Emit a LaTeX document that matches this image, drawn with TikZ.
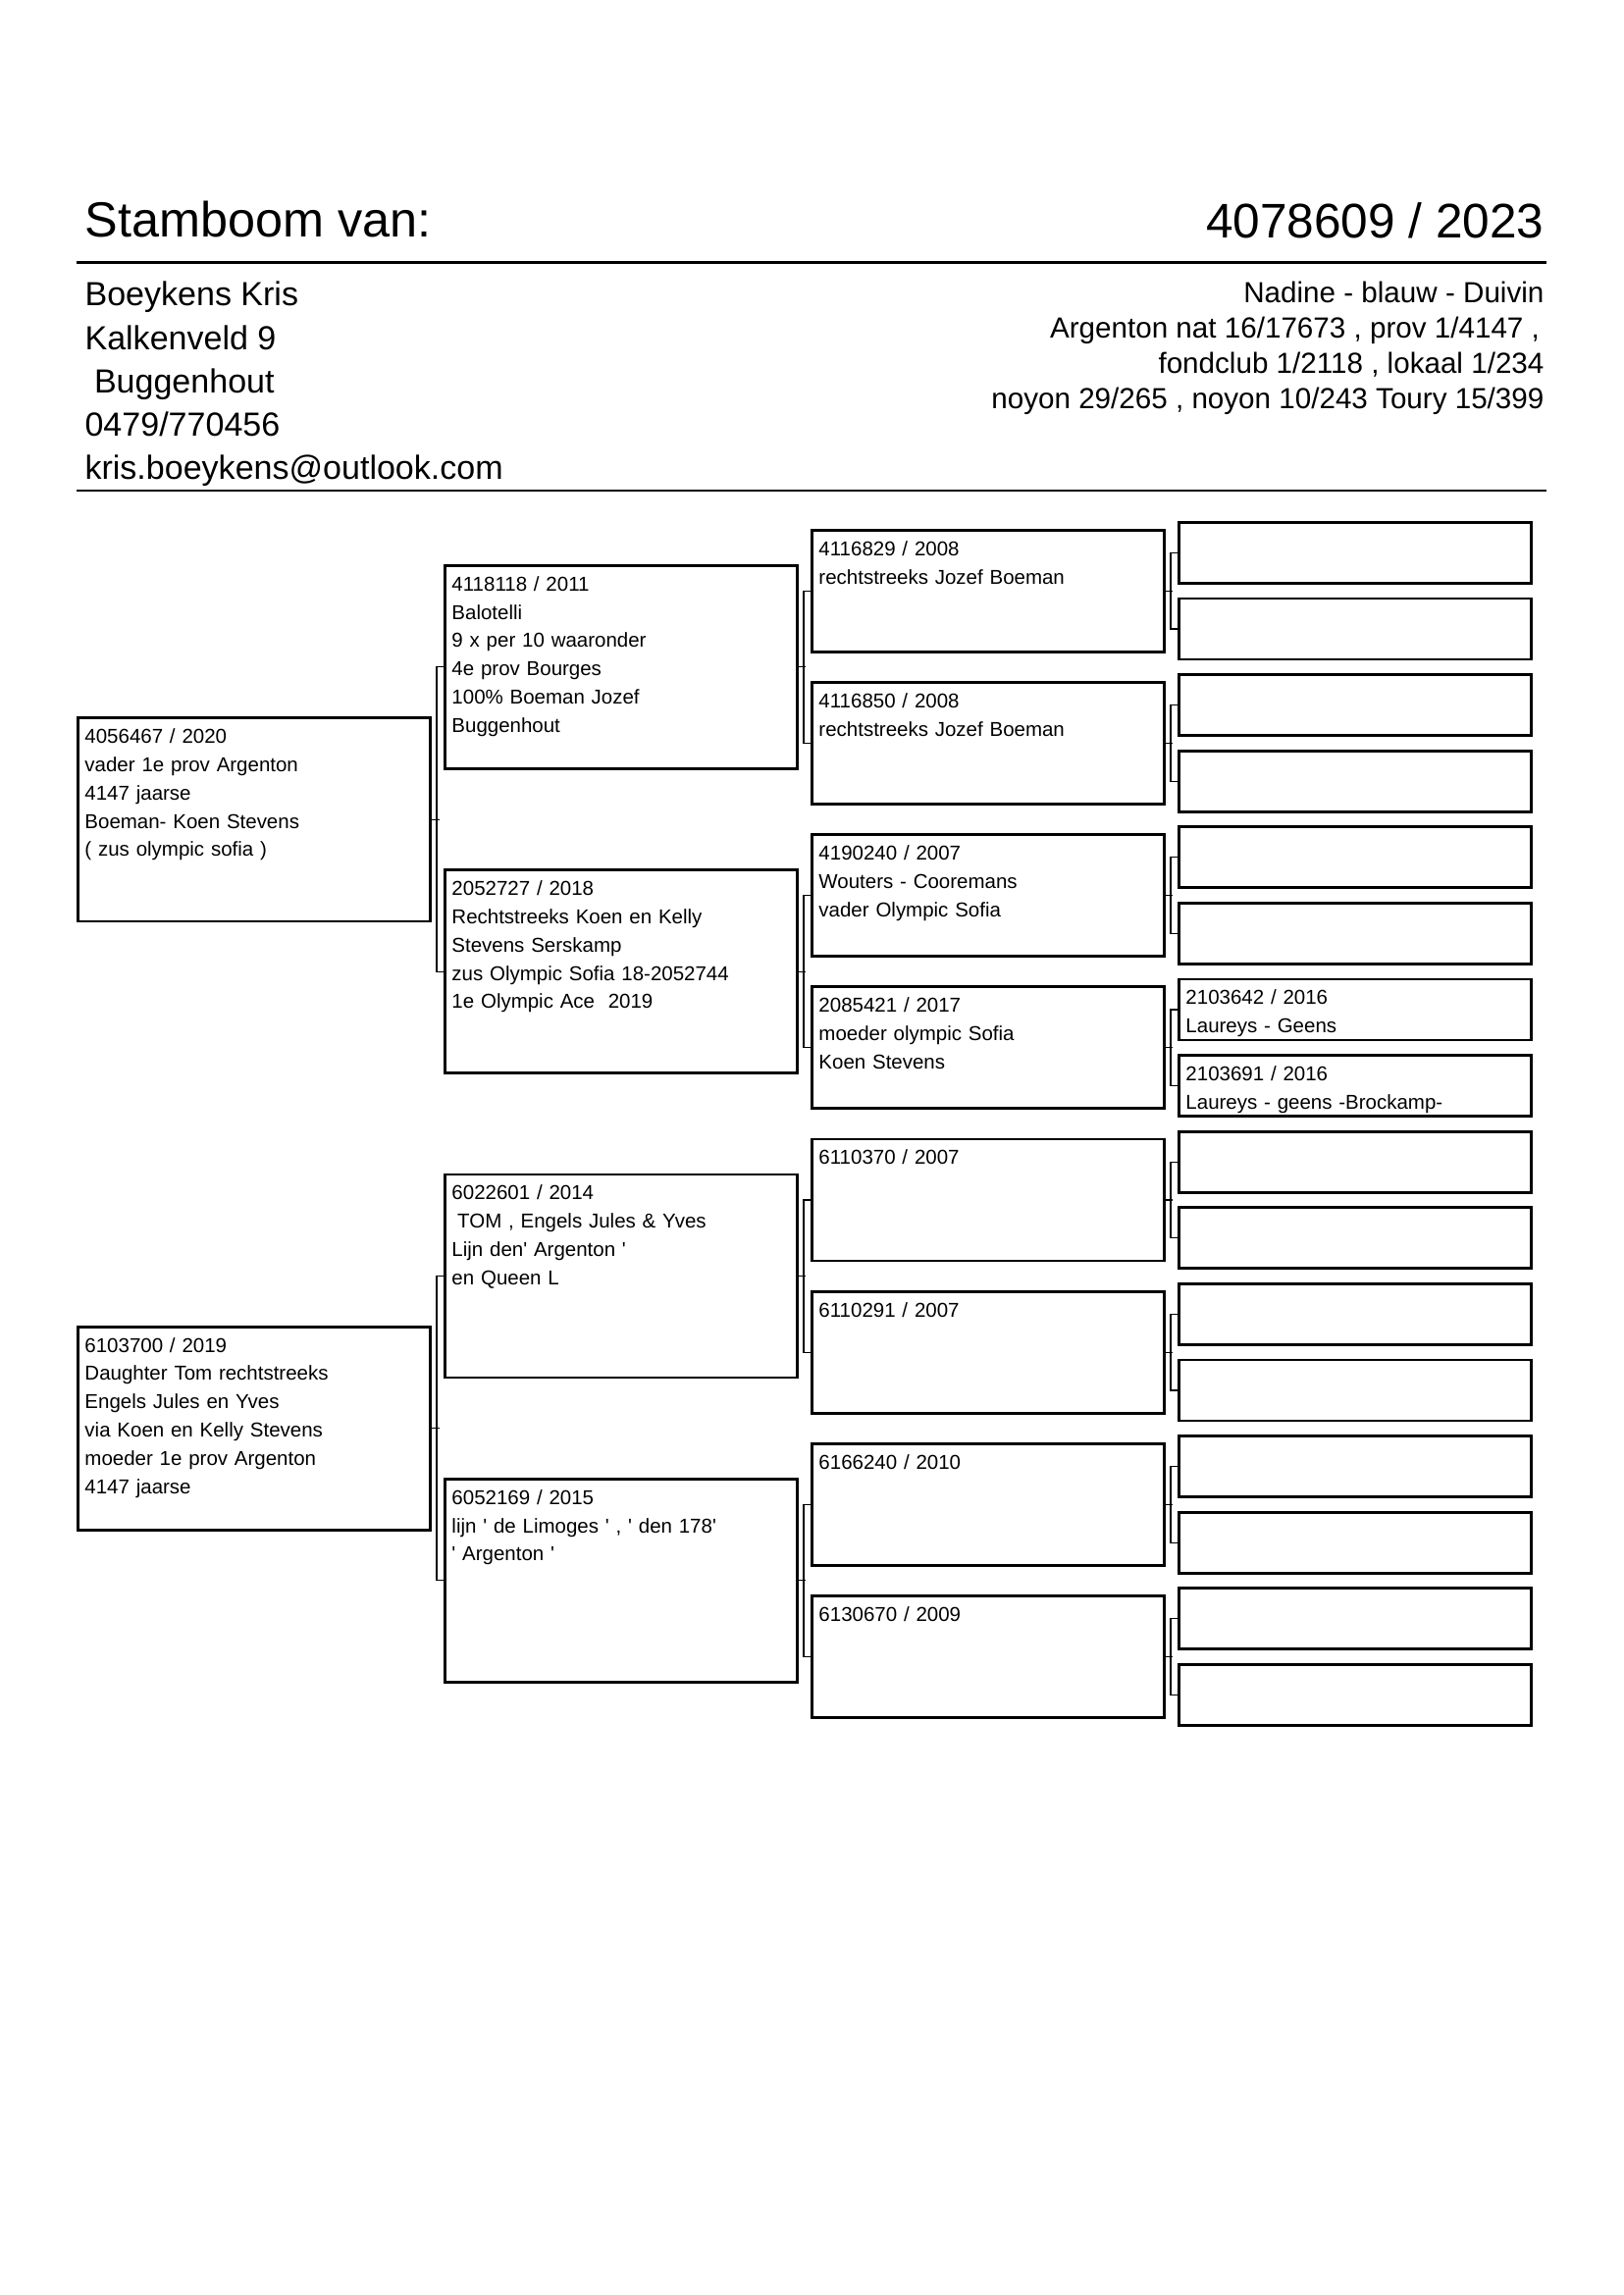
\documentclass[tikz,border=0pt]{standalone}
\usepackage{fontspec}
\setmainfont{Liberation Sans}[Ligatures=TeXOff]

\begin{document}
\begin{tikzpicture}[x=0.127mm, y=-0.127mm,
    every node/.style={inner sep=0pt},
    box/.style={draw, line width=1pt, anchor=north west, align=left, inner xsep=0.9mm, inner ysep=0pt,
      text width=43.8mm, text height=3.3mm, font=\fontsize{7.4}{10.4}\selectfont},
    bigbox/.style={box, text depth=22.99mm},
    midbox/.style={box, text depth=12.45mm},
    smallbox/.style={box, text depth=4.57mm},
    link/.style={line width=0.4pt},
    rule/.style={line width=0.75pt}]
  \useasboundingbox (0,0) rectangle (1654,2339);
  % header: title, ring number and owner
  \node[anchor=base west, font=\fontsize{18.2}{20}\selectfont] (titel) at (86,242)   {Stamboom van:};
  \node[anchor=base east, font=\fontsize{17.9}{20}\selectfont] (ring)  at (1574,243) {4078609 / 2023};
  \draw[rule] (78,267.5) -- (1576,267.5);
  \node[anchor=base west, font=\fontsize{12.3}{14}\selectfont] (naam)  at (86,312)   {Boeykens Kris};
  \node[anchor=base west, font=\fontsize{12.3}{14}\selectfont] (straat) at (86,356.5) {Kalkenveld 9};
  \node[anchor=base west, font=\fontsize{12.3}{14}\selectfont] (gemeente) at (86,400.7) {~Buggenhout};
  \node[anchor=base west, font=\fontsize{12.3}{14}\selectfont] (tel)   at (86,445)   {0479/770456};
  \node[anchor=base west, font=\fontsize{12.3}{14}\selectfont] (mail)  at (86,488.5) {kris.boeykens@outlook.com};
  \node[anchor=base east, font=\fontsize{10.7}{12}\selectfont] (duif)  at (1574,308.5) {Nadine - blauw - Duivin};
  \node[anchor=base east, font=\fontsize{10.7}{12}\selectfont] (prijs1) at (1569.5,344.5) {Argenton nat 16/17673 , prov 1/4147 ,~};
  \node[anchor=base east, font=\fontsize{10.7}{12}\selectfont] (prijs2) at (1574,380.5) {fondclub 1/2118 , lokaal 1/234};
  \node[anchor=base east, font=\fontsize{10.7}{12}\selectfont] (prijs3) at (1574,416.5) {noyon 29/265 , noyon 10/243 Toury 15/399};
  \draw[rule] (78,500) -- (1576,500);
  % parents
  \node[bigbox] (v) at (78,730.5)  {4056467 / 2020\\vader 1e prov Argenton\\4147 jaarse\\Boeman- Koen Stevens\\( zus olympic sofia )};
  \node[bigbox] (m) at (78,1350.8) {6103700 / 2019\\Daughter Tom rechtstreeks\\Engels Jules en Yves\\via Koen en Kelly Stevens\\moeder 1e prov Argenton\\4147 jaarse};
  % grandparents
  \node[bigbox] (vv) at (452,575)    {4118118 / 2011\\Balotelli\\9 x per 10 waaronder\\4e prov Bourges\\100\% Boeman Jozef\\Buggenhout};
  \node[bigbox] (vm) at (452,885.3)  {2052727 / 2018\\Rechtstreeks Koen en Kelly\\Stevens Serskamp\\zus Olympic Sofia 18-2052744\\1e Olympic Ace~~2019};
  \node[bigbox] (mv) at (452,1195.6) {6022601 / 2014\\\hspace*{.28em}TOM , Engels Jules \& Yves\\Lijn den' Argenton '\\en Queen L};
  \node[bigbox] (mm) at (452,1506)   {6052169 / 2015\\lijn ' de Limoges ' , ' den 178'\\' Argenton '};
  % great-grandparents
  \node[midbox] (vvv) at (826,539)     {4116829 / 2008\\rechtstreeks Jozef Boeman};
  \node[midbox] (vvm) at (826,694.15)  {4116850 / 2008\\rechtstreeks Jozef Boeman};
  \node[midbox] (vmv) at (826,849.3)   {4190240 / 2007\\Wouters - Cooremans\\vader Olympic Sofia};
  \node[midbox] (vmm) at (826,1004.45) {2085421 / 2017\\moeder olympic Sofia\\Koen Stevens};
  \node[midbox] (mvv) at (826,1159.6)  {6110370 / 2007};
  \node[midbox] (mvm) at (826,1314.75) {6110291 / 2007};
  \node[midbox] (mmv) at (826,1469.9)  {6166240 / 2010};
  \node[midbox] (mmm) at (826,1625.05) {6130670 / 2009};
  % fourth generation, mostly empty
  \node[smallbox] (vvvv) at (1200,531)    {};
  \node[smallbox] (vvvm) at (1200,608.6)  {};
  \node[smallbox] (vvmv) at (1200,686.2)  {};
  \node[smallbox] (vvmm) at (1200,763.8)  {};
  \node[smallbox] (vmvv) at (1200,841.4)  {};
  \node[smallbox] (vmvm) at (1200,919)    {};
  \node[smallbox] (vmmv) at (1200,996.6)  {2103642 / 2016\\Laureys - Geens};
  \node[smallbox] (vmmm) at (1200,1074.2) {2103691 / 2016\\Laureys - geens -Brockamp-};
  \node[smallbox] (mvvv) at (1200,1151.8) {};
  \node[smallbox] (mvvm) at (1200,1229.4) {};
  \node[smallbox] (mvmv) at (1200,1307)   {};
  \node[smallbox] (mvmm) at (1200,1384.6) {};
  \node[smallbox] (mmvv) at (1200,1462.2) {};
  \node[smallbox] (mmvm) at (1200,1539.8) {};
  \node[smallbox] (mmmv) at (1200,1617.4) {};
  \node[smallbox] (mmmm) at (1200,1695)   {};
  % brackets from each bird to its two parents
  \draw[link] (vv.west) -- ++(-7,0) |- (vm.west) (v.east) -- ++(8,0);
  \draw[link] (mv.west) -- ++(-7,0) |- (mm.west) (m.east) -- ++(8,0);
  \draw[link] (vvv.west) -- ++(-7,0) |- (vvm.west) (vv.east) -- ++(7,0);
  \draw[link] (vmv.west) -- ++(-7,0) |- (vmm.west) (vm.east) -- ++(7,0);
  \draw[link] (mvv.west) -- ++(-7,0) |- (mvm.west) (mv.east) -- ++(7,0);
  \draw[link] (mmv.west) -- ++(-7,0) |- (mmm.west) (mm.east) -- ++(7,0);
  \draw[link] (vvvv.west) -- ++(-7,0) |- (vvvm.west) (vvv.east) -- ++(7.5,0);
  \draw[link] (vvmv.west) -- ++(-7,0) |- (vvmm.west) (vvm.east) -- ++(7.5,0);
  \draw[link] (vmvv.west) -- ++(-7,0) |- (vmvm.west) (vmv.east) -- ++(7.5,0);
  \draw[link] (vmmv.west) -- ++(-7,0) |- (vmmm.west) (vmm.east) -- ++(7.5,0);
  \draw[link] (mvvv.west) -- ++(-7,0) |- (mvvm.west) (mvv.east) -- ++(7.5,0);
  \draw[link] (mvmv.west) -- ++(-7,0) |- (mvmm.west) (mvm.east) -- ++(7.5,0);
  \draw[link] (mmvv.west) -- ++(-7,0) |- (mmvm.west) (mmv.east) -- ++(7.5,0);
  \draw[link] (mmmv.west) -- ++(-7,0) |- (mmmm.west) (mmm.east) -- ++(7.5,0);
\end{tikzpicture}
\end{document}
